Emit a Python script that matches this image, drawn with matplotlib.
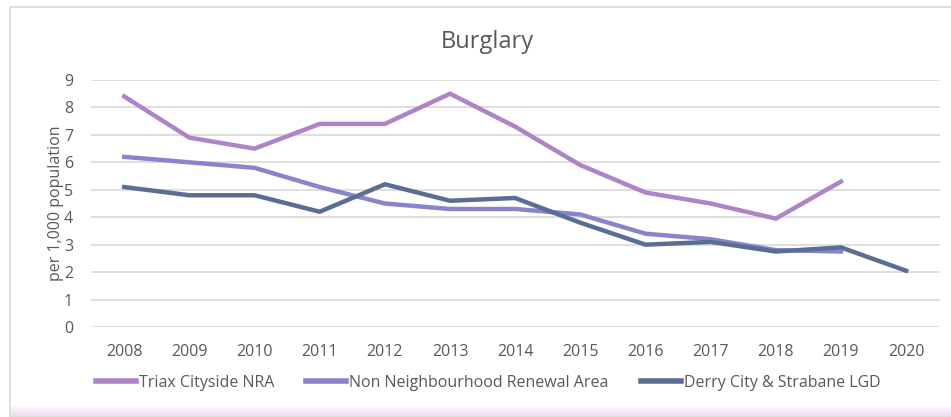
import matplotlib.pyplot as plt
from matplotlib.patches import Rectangle
from matplotlib.lines import Line2D

years = [2008, 2009, 2010, 2011, 2012, 2013, 2014, 2015, 2016, 2017, 2018, 2019, 2020]
triax = [8.4, 6.9, 6.5, 7.4, 7.4, 8.5, 7.3, 5.9, 4.9, 4.5, 3.95, 5.3]
non_nra = [6.2, 6.0, 5.8, 5.1, 4.5, 4.3, 4.3, 4.1, 3.4, 3.2, 2.8, 2.75]
derry = [5.1, 4.8, 4.8, 4.2, 5.2, 4.6, 4.7, 3.8, 3.0, 3.1, 2.75, 2.9, 2.05]

series_names = ["Triax Cityside NRA", "Non Neighbourhood Renewal Area", "Derry City & Strabane LGD"]
colors = ["#AE84C9", "#8A85CB", "#5A6E95"]
text_col = "#595959"

plt.rcParams['font.family'] = ['Open Sans', 'DejaVu Sans']

fig = plt.figure(figsize=(9.51, 4.17), dpi=100)
W, H = 951, 417

# chart frame and bottom tint band
fig.patches.append(Rectangle((9.5 / W, 0), 1, (H - 6.5) / H, transform=fig.transFigure,
                             fill=False, edgecolor="#D9D9D9", linewidth=1.2))
for i, a in enumerate([0.25, 0.45, 0.65, 0.85]):
    fig.patches.append(Rectangle((9.5 / W, (9 - i * 2.5) / H), 1, 2.5 / H, transform=fig.transFigure,
                                 facecolor="#EADCF2", alpha=a, edgecolor="none"))

ax = fig.add_axes([91 / W, 1 - 327 / H, (940 - 91) / W, 247 / H])
x_idx = list(range(len(years)))
ax.plot(x_idx[:len(triax)], triax, color=colors[0], lw=3.2, solid_joinstyle='miter')
ax.plot(x_idx[:len(non_nra)], non_nra, color=colors[1], lw=3.2, solid_joinstyle='miter')
ax.plot(x_idx, derry, color=colors[2], lw=3.2, solid_joinstyle='miter')

ax.set_xlim(-0.51, 12.52)
ax.set_ylim(0, 9)
ax.set_yticks(range(10))
ax.set_xticks(x_idx)
ax.set_xticklabels([str(y) for y in years])
ax.grid(axis='y', color="#D9D9D9", lw=1.2)
ax.set_axisbelow(True)
for s in ax.spines.values():
    s.set_visible(False)
ax.tick_params(length=0, labelsize=11.5, labelcolor=text_col)
ax.tick_params(axis='x', pad=12)
ax.tick_params(axis='y', pad=13)
ax.set_ylabel("per 1,000 population", fontsize=11.5, color=text_col, labelpad=0)

fig.text(487 / W, 1 - 42 / H, "Burglary", ha='center', va='center', fontsize=17, color=text_col)

handles = [Line2D([], [], color=c, lw=4) for c in colors]
fig.legend(handles, series_names, loc='center', bbox_to_anchor=(488 / W, 1 - 383 / H), ncol=3,
           frameon=False, fontsize=11.5, labelcolor=text_col, handlelength=2.5,
           handletextpad=0.2, columnspacing=2.0)

fig.savefig("out.png", dpi=100)
